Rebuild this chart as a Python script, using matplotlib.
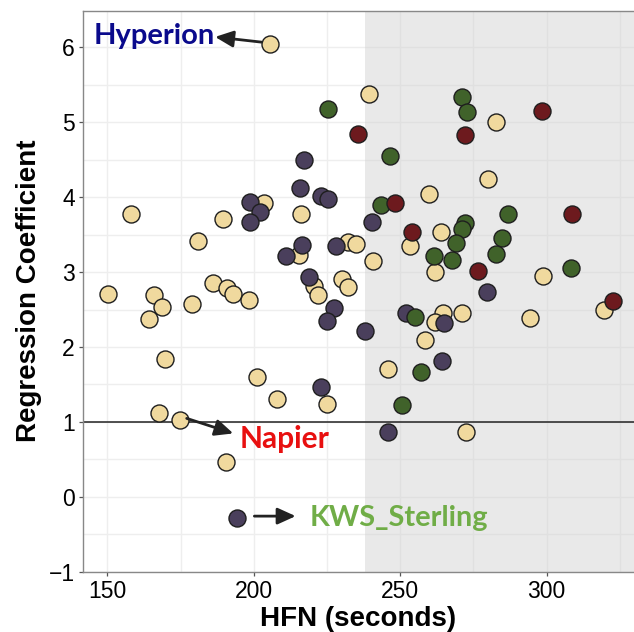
import matplotlib
matplotlib.use('Agg')
import matplotlib.pyplot as plt

# 数据：四组点 (HFN 秒数, 回归系数)
tan_x = [205.5, 239.4, 282.7, 279.8, 259.7, 203.6, 158.0, 189.6, 216.0, 181.1,
         215.4, 232.0, 234.9, 240.6, 253.2, 263.9, 261.7, 298.9, 220.4, 222.0,
         230.2, 232.3, 186.2, 190.7, 192.8, 150.2, 166.0, 168.7, 164.1, 178.9,
         198.3, 169.6, 201.2, 208.0, 224.9, 167.6, 174.8, 190.5, 319.6, 264.5,
         261.8, 271.0, 294.3, 258.4, 245.9, 272.3]
tan_y = [6.04, 5.38, 5.01, 4.24, 4.04, 3.92, 3.78, 3.71, 3.78, 3.41,
         3.23, 3.40, 3.37, 3.15, 3.35, 3.53, 3.00, 2.95, 2.81, 2.70,
         2.91, 2.80, 2.85, 2.79, 2.71, 2.71, 2.69, 2.53, 2.37, 2.58,
         2.63, 1.84, 1.60, 1.30, 1.24, 1.12, 1.02, 0.46, 2.50, 2.46,
         2.34, 2.46, 2.39, 2.10, 1.71, 0.87]

purple_x = [217.2, 215.8, 222.9, 225.4, 198.7, 202.1, 198.8, 240.4, 216.6, 210.9,
            228.1, 218.9, 227.5, 224.9, 237.8, 222.9, 194.2, 279.7, 252.0, 265.0,
            264.3, 245.9]
purple_y = [4.50, 4.12, 4.01, 3.97, 3.93, 3.80, 3.67, 3.67, 3.36, 3.21,
            3.35, 2.94, 2.52, 2.35, 2.21, 1.46, -0.28, 2.74, 2.46, 2.32,
            1.81, 0.87]

green_x = [225.4, 271.2, 272.7, 246.5, 243.3, 286.7, 272.1, 271.0, 284.9, 269.1,
           261.6, 267.7, 282.7, 308.4, 255.1, 257.1, 250.5]
green_y = [5.18, 5.34, 5.14, 4.55, 3.90, 3.77, 3.65, 3.58, 3.45, 3.39,
           3.22, 3.16, 3.24, 3.05, 2.40, 1.67, 1.23]

red_x = [235.5, 298.3, 272.0, 248.2, 308.5, 254.1, 276.6, 322.5]
red_y = [4.84, 5.15, 4.83, 3.92, 3.77, 3.53, 3.01, 2.62]

x_ticks = [150, 200, 250, 300]
y_ticks = [-1, 0, 1, 2, 3, 4, 5, 6]
shade_start = 238

plt.rcParams['font.family'] = ['Liberation Sans', 'DejaVu Sans']

fig = plt.figure(figsize=(6.34, 6.32), dpi=100)
ax = fig.add_axes([83 / 634, (632 - 571.7) / 632, 551 / 634, 561 / 632])

ax.set_xlim(141.7, 329.8)
ax.set_ylim(-1.0, 6.49)

# 网格
for gx in range(150, 330, 25):
    ax.axvline(gx, color='#eeeeee', lw=1.0, zorder=0)
for gy in [v / 2 for v in range(-2, 13)]:
    ax.axhline(gy, color='#eeeeee', lw=1.0, zorder=0)

# 灰色区域
ax.axvspan(shade_start, 329.8, color='#cfcfcf', alpha=0.45, lw=0, zorder=1)

ax.axhline(1, color='#222222', lw=1.1, zorder=2)

ec = '#1e1e1e'
ax.scatter(tan_x, tan_y, s=150, c='#f0d99e', edgecolors=ec, linewidths=1.0, zorder=3)
ax.scatter(purple_x, purple_y, s=150, c='#4a3f5c', edgecolors=ec, linewidths=1.0, zorder=3)
ax.scatter(green_x, green_y, s=150, c='#40622a', edgecolors=ec, linewidths=1.0, zorder=3)
ax.scatter(red_x, red_y, s=150, c='#6d1a1e', edgecolors=ec, linewidths=1.0, zorder=3)

# 标注
afont = ['Lato', 'DejaVu Sans']
arrow = dict(arrowstyle='-|>,head_length=0.55,head_width=0.25', mutation_scale=20,
             color='#222222', lw=2, shrinkA=0, shrinkB=0)
ax.text(145.2, 6.05, 'Hyperion', color='#0a0a8c', fontsize=21, fontweight='bold',
        family=afont, va='baseline', ha='left', zorder=4)
ax.annotate('', xy=(186.8, 6.14), xytext=(202.7, 6.07), arrowprops=arrow, zorder=4)
ax.text(195.0, 0.646, 'Napier', color='#e81010', fontsize=21.5, fontweight='bold',
        family=afont, va='baseline', ha='left', zorder=4)
ax.annotate('', xy=(193.0, 0.846), xytext=(177.1, 1.047), arrowprops=arrow, zorder=4)
ax.text(219.2, -0.39, 'KWS_Sterling', color='#70ad47', fontsize=20.8, fontweight='bold',
        family=afont, va='baseline', ha='left', zorder=4)
ax.annotate('', xy=(214.3, -0.258), xytext=(200.2, -0.258), arrowprops=arrow, zorder=4)

ax.set_xticks(x_ticks)
ax.set_yticks(y_ticks)
ax.set_yticklabels(['\u22121' if t < 0 else str(t) for t in y_ticks])
ax.tick_params(length=3, width=0.9, color='#555555', labelsize=16.5, labelcolor='black')
ax.tick_params(axis='x', pad=3)
ax.tick_params(axis='y', pad=3)

for side in ['left', 'bottom', 'top']:
    ax.spines[side].set_color('#888888')
    ax.spines[side].set_linewidth(1.0)
ax.spines['right'].set_visible(False)

ax.set_xlabel('HFN (seconds)', fontsize=20, fontweight='bold')
ax.set_ylabel('Regression Coefficient', fontsize=20, fontweight='bold')
ax.xaxis.set_label_coords(0.5, -0.061)
ax.yaxis.set_label_coords(-0.074, 0.5)

fig.savefig('out.png', dpi=100)
